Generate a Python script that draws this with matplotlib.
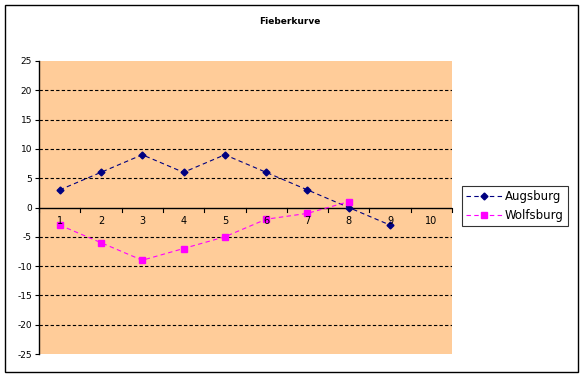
import matplotlib.pyplot as plt
from matplotlib.patches import Rectangle
import numpy as np

# data
categories = [1, 2, 3, 4, 5, 6, 7, 8, 9, 10]
augsburg = [3, 6, 9, 6, 9, 6, 3, 0, -3, np.nan]
wolfsburg = [-3, -6, -9, -7, -5, -2, -1, 1, np.nan, np.nan]

W, H = 584, 377
plt.rcParams['font.family'] = ['DejaVu Sans']
plt.rcParams['axes.unicode_minus'] = False
fig = plt.figure(figsize=(W / 100, H / 100), dpi=100, facecolor='white')

# outer chart border
fig.patches.append(Rectangle((5 / W, 1 - 372 / H), 573 / W, 367 / H,
                             transform=fig.transFigure, fill=False,
                             edgecolor='black', linewidth=1.0))

ax = fig.add_axes([39 / W, 1 - 354 / H, 413 / W, 293 / H])
ax.set_facecolor('#FFCC99')

x = np.arange(len(categories))
ax.plot(x, augsburg, color='#000080', linestyle='--', dashes=(4, 3), linewidth=0.8,
        marker='D', markersize=3.5, label='Augsburg', zorder=3)
ax.plot(x, wolfsburg, color='#FF00FF', linestyle='--', dashes=(4, 3), linewidth=0.8,
        marker='s', markersize=4.5, label='Wolfsburg', zorder=3)

ax.set_xlim(-0.5, len(categories) - 0.5)
ax.set_ylim(-25, 25)
ax.set_yticks(np.arange(-25, 26, 5))
ax.tick_params(axis='y', labelsize=6.5, length=3, width=0.8, pad=2)

for yv in range(-20, 21, 5):
    if yv != 0:
        ax.axhline(yv, color='black', linestyle=(0, (3, 2)), linewidth=0.8, zorder=1)

# category axis at zero
ax.axhline(0, color='black', linewidth=1.0, zorder=1.5)
ax.set_xticks([])
for b in np.arange(-0.5, len(categories), 1.0):
    ax.plot([b, b], [0, -0.7], color='black', linewidth=0.8, clip_on=False)
for xi, c in zip(x, categories):
    ax.text(xi, -2.3, str(c), fontsize=7, ha='center', va='center')

for side in ['top', 'right', 'bottom']:
    ax.spines[side].set_visible(False)
ax.spines['left'].set_linewidth(1.0)

fig.text(290 / W, 1 - 22 / H, 'Fieberkurve', fontsize=6.5, fontweight='bold',
         ha='center', va='center')

leg = ax.legend(loc='center left', bbox_to_anchor=(462 / W, 1 - 206 / H),
                bbox_transform=fig.transFigure, fontsize=8.5, frameon=True,
                fancybox=False, edgecolor='black', handlelength=3.0,
                borderpad=0.35, labelspacing=0.55, handletextpad=0.3,
                borderaxespad=0)
leg.get_frame().set_linewidth(0.8)

fig.savefig('out.png', dpi=100, facecolor='white')
